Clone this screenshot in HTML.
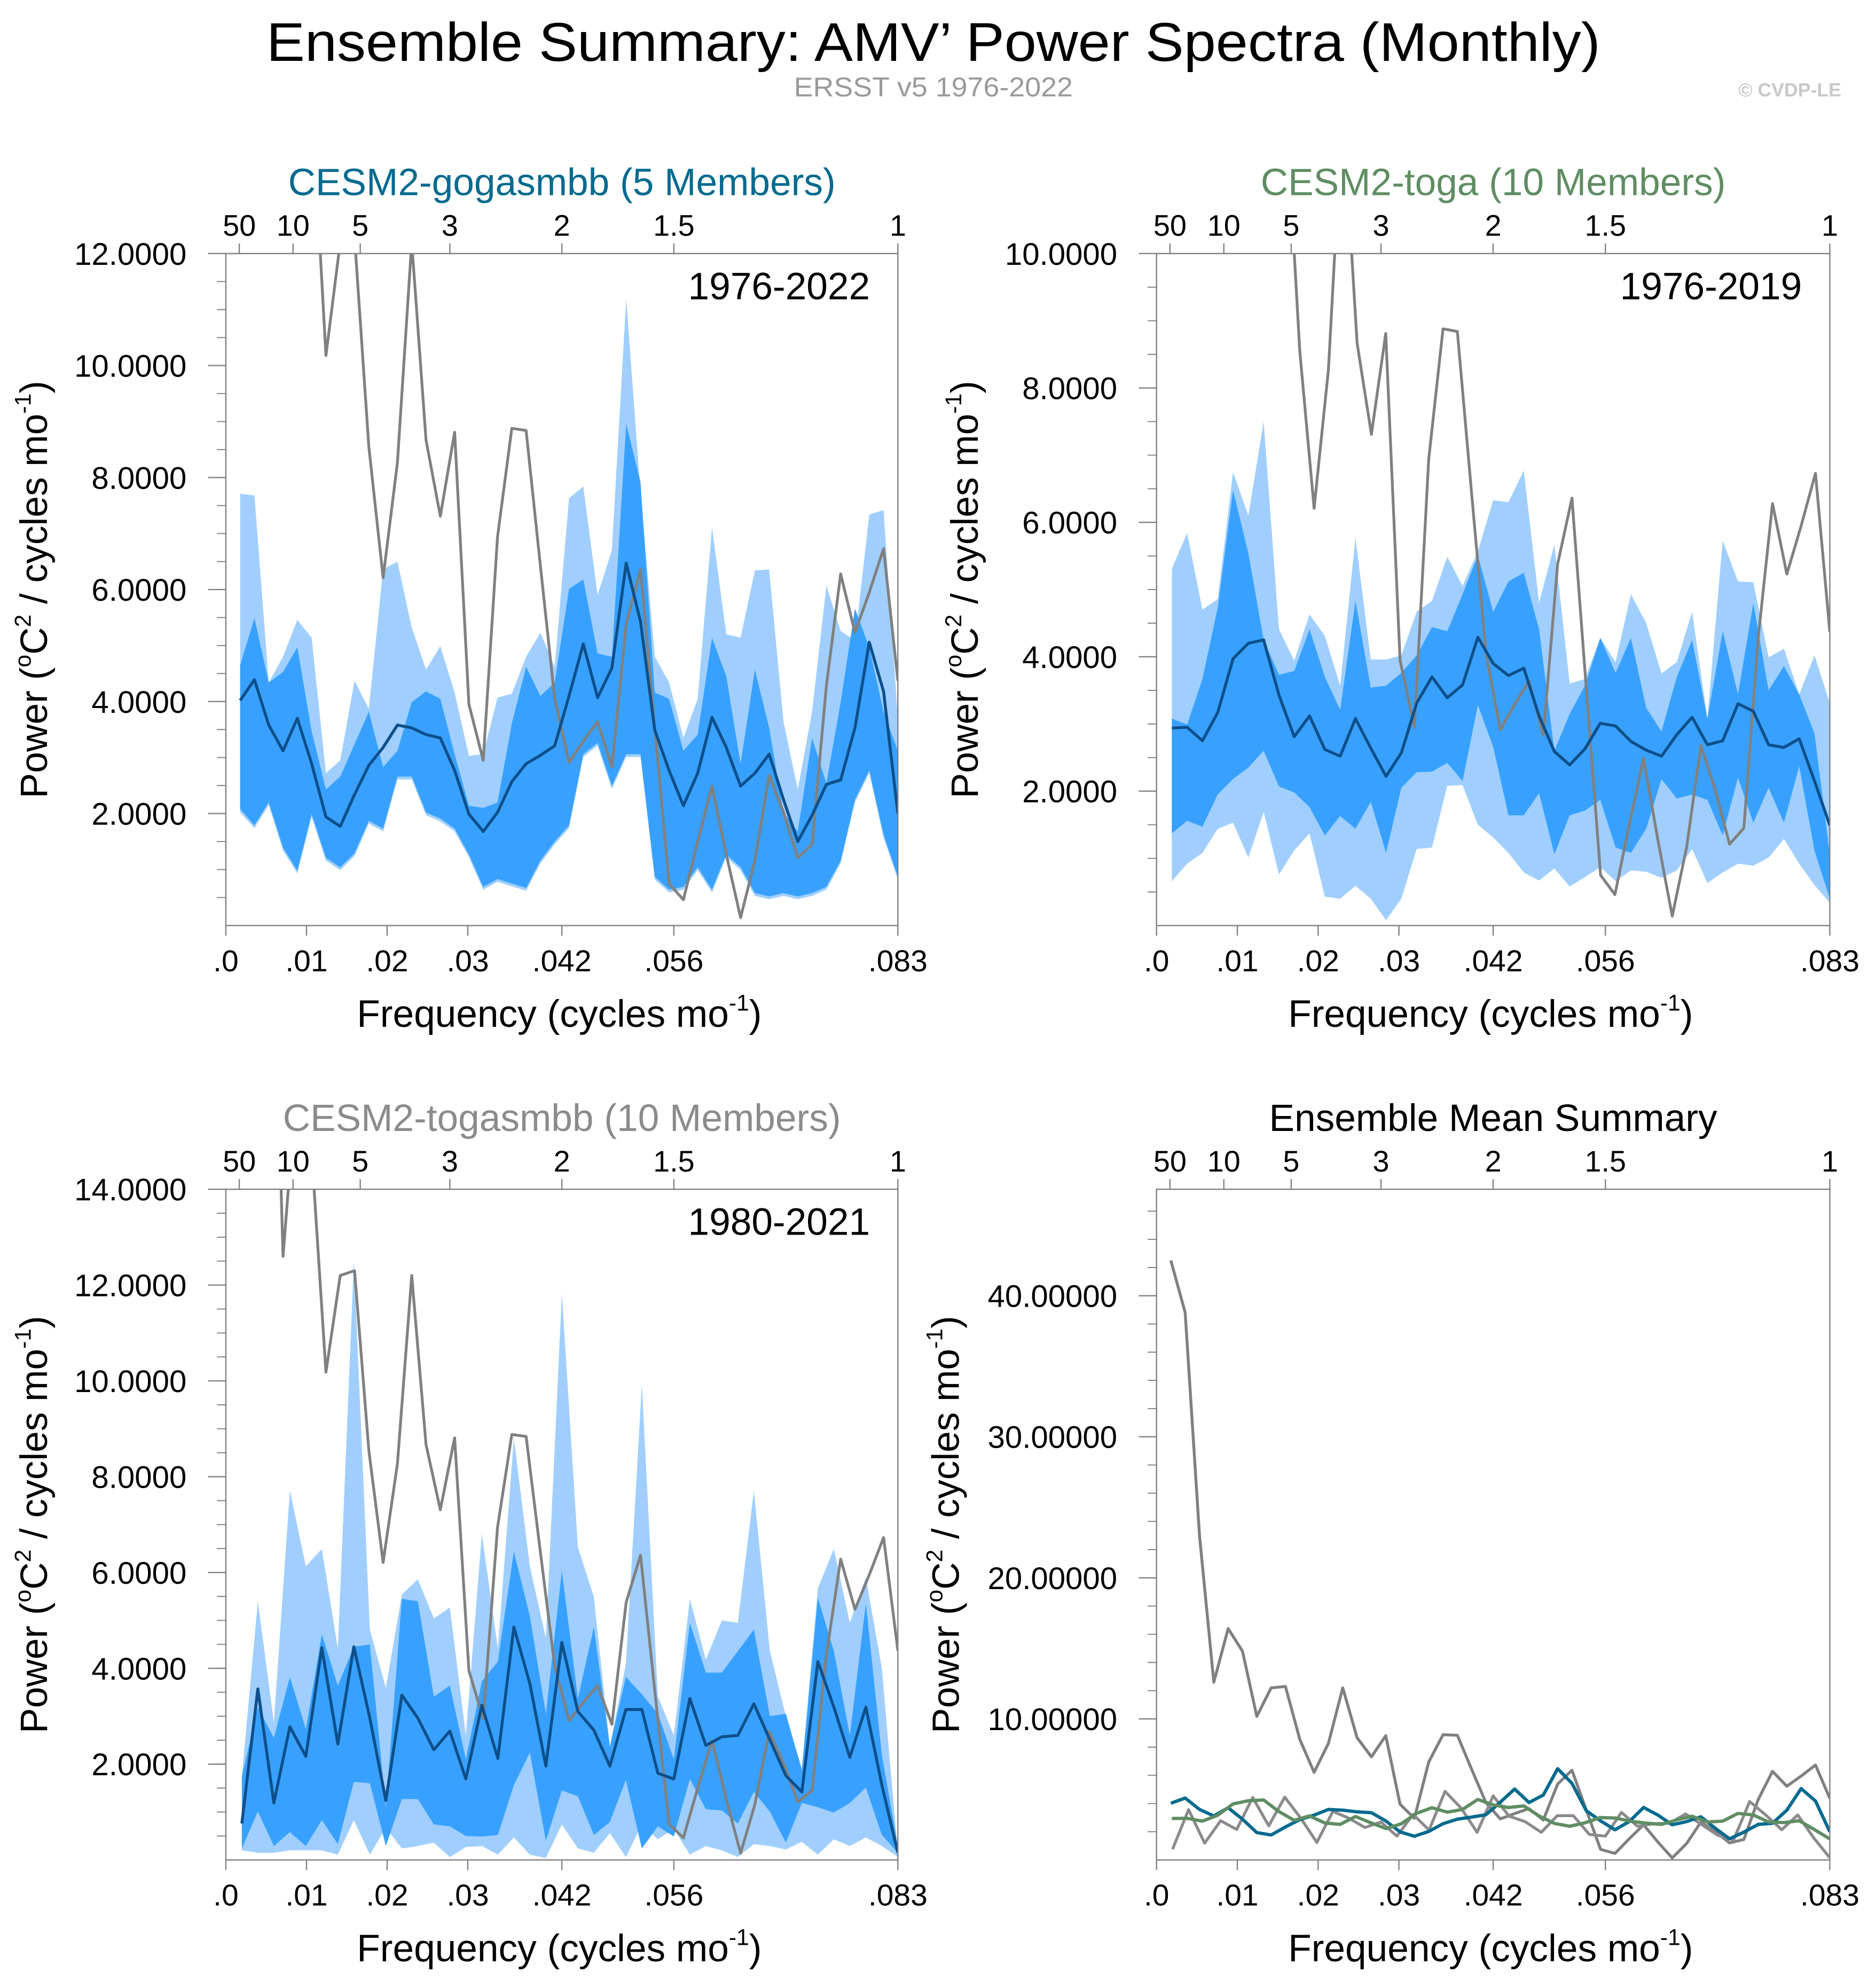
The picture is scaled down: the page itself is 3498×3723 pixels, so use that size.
<!DOCTYPE html>
<html><head><meta charset="utf-8"><title>AMV Power Spectra</title>
<style>
html,body{margin:0;padding:0;background:#fff;}
svg{display:block;font-family:"Liberation Sans",Arial,sans-serif;}
</style></head>
<body>
<svg id="chart" xmlns="http://www.w3.org/2000/svg" width="3498" height="3723" viewBox="0 0 1473 1568">
<rect x="0" y="0" width="1473" height="1568" fill="#fff"/>
<text x="736" y="48" font-size="43" text-anchor="middle" textLength="1052" lengthAdjust="spacingAndGlyphs">Ensemble Summary: AMV’ Power Spectra (Monthly)</text>
<text x="736" y="76" font-size="21.5" fill="#9a9a9a" text-anchor="middle" textLength="220" lengthAdjust="spacingAndGlyphs">ERSST v5 1976-2022</text>
<text x="1452" y="76" font-size="15" fill="#c8c8c8" font-weight="bold" text-anchor="end">© CVDP-LE</text>
<g id="layer"></g>
</svg>
<script>
// ---------- data ----------
const obsVals = [42.5,38.8,23.0,12.6,16.4,14.8,10.18,12.2,12.3,8.55,6.21,8.27,12.2,8.67,7.31,8.81,3.95,2.95,6.94,8.88,8.84,6.42,4.05,2.91,3.29,3.64,2.83,5.38,6.36,3.53,0.75,0.46,1.50,2.49,1.27,0.14,1.16,2.68,2.02,1.21,1.45,4.28,6.28,5.23,5.95,6.73,4.37];
const obsNyears = 47;

const p1Mean = [4.02,4.39,3.58,3.12,3.70,2.89,1.94,1.77,2.34,2.86,3.18,3.58,3.53,3.41,3.35,2.77,1.99,1.68,2.02,2.57,2.89,3.04,3.21,4.10,5.03,4.07,4.60,6.47,5.43,3.49,2.77,2.14,2.72,3.72,3.18,2.49,2.72,3.06,2.25,1.50,1.97,2.52,2.60,3.53,5.06,4.18,2.00];
const p1LightHi = [7.71,7.68,4.34,4.80,5.46,5.14,2.72,2.95,4.37,3.87,6.36,6.50,5.32,4.57,4.99,4.16,3.03,3.06,4.07,4.14,4.80,5.23,4.62,7.63,7.84,5.90,6.71,11.19,7.75,4.80,4.34,3.35,4.05,7.11,5.20,5.14,6.34,6.36,3.64,2.43,3.82,6.07,5.26,5.09,7.34,7.42,3.70];
const p1DarkHi = [4.65,5.49,4.34,4.53,4.97,3.47,2.43,2.66,3.24,3.82,2.83,3.12,3.99,4.18,4.05,3.06,2.14,2.10,2.20,3.61,4.62,4.10,4.34,6.01,6.18,4.86,4.80,8.96,7.92,4.16,4.05,3.12,3.41,5.14,4.45,2.89,4.57,3.53,2.02,1.68,3.35,2.54,3.99,5.66,4.97,3.82,3.12];
const p1DarkLo = [2.08,1.79,2.20,1.39,0.98,1.99,1.21,1.04,1.29,1.87,1.73,2.66,2.66,2.02,1.91,1.73,1.27,0.69,0.83,0.75,0.67,1.16,1.50,1.79,3.06,3.26,2.49,3.06,3.06,0.87,0.64,0.69,1.04,0.64,1.27,1.04,0.58,0.52,0.58,0.52,0.58,0.69,1.16,2.25,2.77,1.62,0.87];
const p1LightLo = [2.02,1.74,2.15,1.34,0.93,1.94,1.16,0.99,1.24,1.82,1.68,2.61,2.61,1.97,1.86,1.68,1.22,0.64,0.78,0.70,0.62,1.11,1.45,1.74,3.01,3.21,2.44,3.01,3.01,0.82,0.59,0.64,0.99,0.59,1.22,0.99,0.53,0.47,0.53,0.47,0.53,0.64,1.11,2.20,2.72,1.57,0.82];
const p1Nyears = 47;

const p2Mean = [2.94,2.95,2.75,3.17,3.97,4.20,4.25,3.43,2.81,3.12,2.62,2.52,3.08,2.64,2.22,2.57,3.31,3.70,3.39,3.58,4.29,3.90,3.72,3.83,3.12,2.59,2.39,2.63,3.01,2.97,2.74,2.61,2.52,2.84,3.10,2.69,2.75,3.30,3.19,2.69,2.65,2.78,2.15,1.49];
const p2LightHi = [5.31,5.84,4.70,4.86,6.75,6.10,7.50,4.41,3.94,4.63,4.31,3.57,5.77,3.96,3.96,4.02,4.67,4.83,5.49,5.05,5.57,6.33,6.30,6.77,4.80,5.67,3.60,3.67,4.28,3.92,4.93,4.50,3.75,3.92,4.67,3.08,5.73,5.12,5.11,3.99,4.12,3.44,4.02,3.31];
const p2DarkHi = [3.08,2.99,3.67,4.73,6.48,5.54,4.25,3.73,3.79,4.41,3.70,3.21,4.83,3.54,3.57,3.76,4.02,4.44,4.38,4.93,5.51,4.67,5.12,5.25,4.41,2.60,3.15,3.57,4.28,3.76,4.28,3.24,2.89,3.70,4.25,3.08,4.38,3.44,4.80,3.50,3.86,3.44,2.86,1.05];
const p2DarkLo = [1.37,1.56,1.47,1.95,2.18,2.35,2.60,2.07,1.98,1.76,1.34,1.63,1.44,1.84,1.08,2.05,2.28,2.29,2.42,2.15,3.28,2.66,1.64,1.64,1.97,1.06,1.64,1.71,1.87,1.16,1.08,1.44,2.18,1.89,1.95,1.87,1.34,2.20,1.53,2.05,1.53,2.37,1.11,0.40];
const p2LightLo = [0.66,0.92,1.08,1.44,1.53,1.01,1.69,0.76,1.12,1.37,0.43,0.40,0.59,0.40,0.08,0.40,1.14,1.16,2.08,2.09,1.50,1.31,1.08,0.79,0.67,0.85,0.58,0.72,0.87,0.66,0.82,0.80,0.71,0.82,1.14,0.63,0.79,0.92,0.89,1.01,1.29,0.92,0.60,0.34];
const p2Nyears = 44;

const p3Mean = [0.76,3.57,1.19,2.78,2.16,4.43,2.42,4.45,2.96,1.24,3.44,2.96,2.30,2.69,1.69,3.23,2.12,4.86,3.68,1.96,4.54,3.10,2.71,1.96,3.14,3.14,1.81,1.69,3.37,2.39,2.57,2.60,3.26,2.51,1.76,1.42,4.14,3.19,2.14,3.19,1.56,0.15];
const p3LightHi = [1.74,5.40,2.87,7.71,6.13,6.49,4.41,12.5,4.81,3.59,5.54,5.86,5.04,5.27,2.60,6.81,4.41,8.80,6.13,4.63,11.83,6.53,5.49,2.37,4.09,9.93,3.41,2.60,5.45,4.18,5.00,4.95,7.71,4.36,3.00,1.92,5.67,6.49,4.95,5.90,4.00,0.15];
const p3DarkHi = [1.74,3.19,2.55,3.82,2.73,4.71,3.64,4.45,4.50,1.10,5.45,5.40,3.41,3.64,2.10,3.73,4.14,6.44,5.09,3.05,6.04,3.37,4.86,2.37,3.82,3.46,3.05,2.10,4.95,3.91,3.91,4.36,4.81,3.00,3.05,1.87,5.47,4.36,2.60,5.36,2.19,0.29];
const p3DarkLo = [0.24,1.01,0.29,0.58,0.29,0.83,0.33,1.63,1.60,0.29,1.27,1.27,0.74,0.70,0.50,0.49,0.52,1.56,2.24,0.40,1.45,1.33,0.52,0.79,1.67,0.24,0.70,0.49,1.69,1.06,1.03,0.76,1.42,1.01,0.36,1.19,1.10,0.99,1.19,1.51,0.52,0.15];
const p3LightLo = [0.20,0.15,0.15,0.20,0.20,0.20,0.11,0.83,0.11,0.67,0.24,0.29,0.36,0.06,0.27,0.29,0.11,0.47,0.11,0.04,0.74,0.24,0.15,0.56,0.06,0.74,0.43,0.65,0.11,0.29,0.20,0.06,0.33,0.29,0.22,0.38,0.11,0.43,0.29,0.47,0.29,0.06];
const p3Nyears = 42;

const bottomTickVals = [0, 0.01, 0.02, 0.03, 1/24, 1/18, 1/12];
const bottomTickLabels = [".0", ".01", ".02", ".03", ".042", ".056", ".083"];
const topPeriods = [50, 10, 5, 3, 2, 1.5, 1];
const topTickLabels = ["50", "10", "5", "3", "2", "1.5", "1"];
const p1YTicks = [2,4,6,8,10,12];
const p2YTicks = [2,4,6,8,10];
const p3YTicks = [2,4,6,8,10,12,14];
const p4YTicks = [10,20,30,40];

// ---------- drawing ----------
const NS = "http://www.w3.org/2000/svg";
const layer = document.getElementById("layer");
const C_LIGHT = "#a0cfff", C_DARK = "#38a1ff", C_MEAN = "#0d4f8a", C_OBS = "#808080";

function mk(tag, attrs, parent) {
  const e = document.createElementNS(NS, tag);
  for (const k in attrs) e.setAttribute(k, attrs[k]);
  (parent || layer).appendChild(e);
  return e;
}
function freqs(n, nyears) { return Array.from({length: n}, (_, i) => (i + 1) / (12 * nyears)); }

function drawPanel(P) {
  const g = mk("g", {});
  
  
  const xs = f => P.x0 + (f / (1/12)) * (P.x1 - P.x0);
  const ys = v => P.y1 - (v / P.ymax) * (P.y1 - P.y0);
  const clipId = "clip-" + P.name;
  const cp = mk("clipPath", {id: clipId}, g);
  mk("rect", {x: P.x0, y: P.y0, width: P.x1 - P.x0, height: P.y1 - P.y0}, cp);
  const plot = mk("g", {"clip-path": "url(#" + clipId + ")"}, g);

  function band(hi, lo, nyears, color, nm) {
    const f = freqs(hi.length, nyears);
    const pts = [];
    for (let i = 0; i < hi.length; i++) pts.push(xs(f[i]).toFixed(2) + "," + ys(hi[i]).toFixed(2));
    for (let i = lo.length - 1; i >= 0; i--) pts.push(xs(f[i]).toFixed(2) + "," + ys(lo[i]).toFixed(2));
    const p = mk("polygon", {points: pts.join(" "), fill: color, stroke: "none"}, plot);
    
    
  }
  function line(vals, nyears, color, w, nm) {
    const f = freqs(vals.length, nyears);
    const pts = vals.map((v, i) => xs(f[i]).toFixed(2) + "," + ys(v).toFixed(2)).join(" ");
    const l = mk("polyline", {points: pts, fill: "none", stroke: color, "stroke-width": w, "stroke-linejoin": "round"}, plot);
    
    
  }
  if (P.bands) {
    band(P.lightHi, P.lightLo, P.nyears, C_LIGHT, "spread-band-outer");
    band(P.darkHi, P.darkLo, P.nyears, C_DARK, "spread-band-inner");
    line(obsVals, obsNyears, C_OBS, 2.2, "observed-spectrum-line");
    line(P.mean, P.nyears, C_MEAN, 2.3, "ensemble-mean-line");
  } else {
    line(obsVals, obsNyears, C_OBS, 2.3, "observed-spectrum-line");
    line(p3Mean, p3Nyears, "#8d8a8e", 2.3, "togasmbb-mean-line");
    line(p1Mean, p1Nyears, "#006a8e", 2.6, "gogasmbb-mean-line");
    line(p2Mean, p2Nyears, "#5f8d63", 2.6, "toga-mean-line");
  }

  const fr = mk("rect", {x: P.x0, y: P.y0, width: P.x1 - P.x0, height: P.y1 - P.y0, fill: "none", stroke: "#808080", "stroke-width": 1}, g);
  
  

  for (let v = P.minor; v < P.ymax + 1e-6; v += P.minor) {
    mk("line", {x1: P.x0 - 7, x2: P.x0, y1: ys(v), y2: ys(v), stroke: "#808080", "stroke-width": 0.8}, g);
  }
  P.yticks.forEach(v => {
    mk("line", {x1: P.x0 - 14, x2: P.x0, y1: ys(v), y2: ys(v), stroke: "#808080", "stroke-width": 1}, g);
    const t = mk("text", {x: P.labelRight, y: ys(v) + P.yfs * 0.36, "font-size": P.yfs, "text-anchor": "end"}, g);
    t.textContent = v.toFixed(P.dec);
    
    
  });
  bottomTickVals.forEach((f, i) => {
    mk("line", {x1: xs(f), x2: xs(f), y1: P.y1, y2: P.y1 + 8, stroke: "#808080", "stroke-width": 1}, g);
    const t = mk("text", {x: xs(f), y: P.y1 + 36, "font-size": 24, "text-anchor": "middle"}, g);
    t.textContent = bottomTickLabels[i];
    
    
  });
  topPeriods.forEach((p, i) => {
    const x = xs(1 / (12 * p));
    mk("line", {x1: x, x2: x, y1: P.y0 - 8, y2: P.y0, stroke: "#808080", "stroke-width": 1}, g);
    const t = mk("text", {x: x, y: P.y0 - 14, "font-size": 23.5, "text-anchor": "middle"}, g);
    t.textContent = topTickLabels[i];
    
    
  });
  const tt = mk("text", {x: (P.x0 + P.x1) / 2, y: P.y0 - 46, "font-size": 30, "text-anchor": "middle", fill: P.titleColor}, g);
  tt.textContent = P.title;
  
  
  if (P.period) {
    const pt = mk("text", {x: P.x1 - 22, y: P.y0 + 36, "font-size": 30, "text-anchor": "end"}, g);
    pt.textContent = P.period;
    
    
  }
  const xt = mk("text", {x: (P.x0 + P.x1) / 2 - 2, y: P.y1 + 80, "font-size": 30, "text-anchor": "middle"}, g);
  xt.innerHTML = 'Frequency (cycles mo<tspan font-size="18" dy="-13">-1</tspan><tspan dy="13">)</tspan>';
  
  
  const cy = (P.y0 + P.y1) / 2;
  const yt = mk("text", {x: 0, y: 0, "font-size": 30, "text-anchor": "middle", transform: "translate(" + P.ylx + "," + cy + ") rotate(-90)"}, g);
  yt.innerHTML = 'Power (<tspan font-size="18" dy="-13">o</tspan><tspan dy="13">C</tspan><tspan font-size="18" dy="-13">2</tspan><tspan dy="13"> / cycles mo</tspan><tspan font-size="18" dy="-13">-1</tspan><tspan dy="13">)</tspan>';
  
  
}

drawPanel({name: "panel-gogasmbb", x0: 178, x1: 708, y0: 200, y1: 730, ymax: 12, minor: 0.5, yticks: p1YTicks, dec: 4, ylx: 37, labelRight: 147, yfs: 24.5,
  title: "CESM2-gogasmbb (5 Members)", titleColor: "#006a8e", period: "1976-2022", bands: true,
  mean: p1Mean, lightHi: p1LightHi, lightLo: p1LightLo, darkHi: p1DarkHi, darkLo: p1DarkLo, nyears: p1Nyears});
drawPanel({name: "panel-toga", x0: 912, x1: 1443, y0: 200, y1: 730, ymax: 10, minor: 0.5, yticks: p2YTicks, dec: 4, ylx: 771, labelRight: 881, yfs: 24.5,
  title: "CESM2-toga (10 Members)", titleColor: "#5f8d63", period: "1976-2019", bands: true,
  mean: p2Mean, lightHi: p2LightHi, lightLo: p2LightLo, darkHi: p2DarkHi, darkLo: p2DarkLo, nyears: p2Nyears});
drawPanel({name: "panel-togasmbb", x0: 178, x1: 708, y0: 938, y1: 1467, ymax: 14, minor: 0.5, yticks: p3YTicks, dec: 4, ylx: 37, labelRight: 147, yfs: 24.5,
  title: "CESM2-togasmbb (10 Members)", titleColor: "#8d8a8e", period: "1980-2021", bands: true,
  mean: p3Mean, lightHi: p3LightHi, lightLo: p3LightLo, darkHi: p3DarkHi, darkLo: p3DarkLo, nyears: p3Nyears});
drawPanel({name: "panel-ensemble-mean-summary", x0: 912, x1: 1443, y0: 938, y1: 1467, ymax: 47.55, minor: 2, yticks: p4YTicks, dec: 5, ylx: 756, labelRight: 881, yfs: 24.5,
  title: "Ensemble Mean Summary", titleColor: "#000", period: null, bands: false});
</script>
</body></html>
